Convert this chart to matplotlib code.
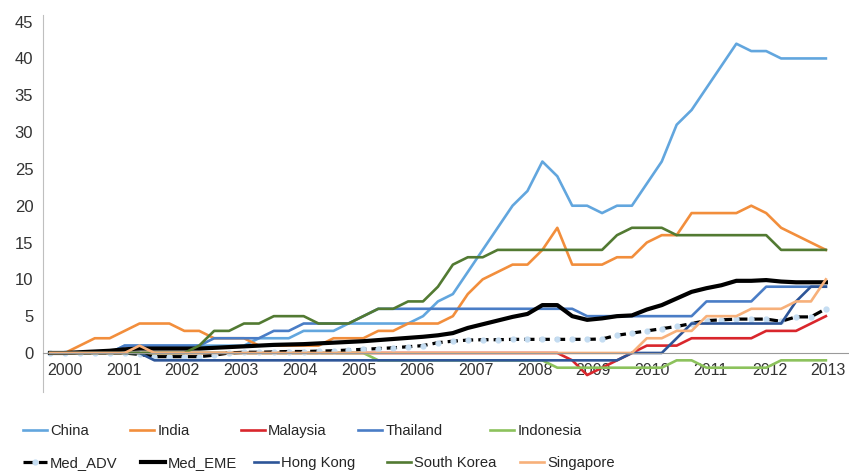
import numpy as np
import matplotlib
matplotlib.use("Agg")
import matplotlib.pyplot as plt

# quarterly observations, 53 points
china = [0, 0, 0, 0, 0, 1, 1, 1, 1, 1, 1, 1, 1, 1, 2, 2, 2, 3, 3, 3, 4, 4, 4, 4, 4,
         5, 7, 8, 11, 14, 17, 20, 22, 26, 24, 20, 20, 19, 20, 20, 23, 26, 31, 33, 36,
         39, 42, 41, 41, 40, 40, 40, 40]
india = [0, 0, 1, 2, 2, 3, 4, 4, 4, 3, 3, 2, 2, 2, 1, 1, 1, 1, 1, 2, 2, 2, 3, 3, 4,
         4, 4, 5, 8, 10, 11, 12, 12, 14, 17, 12, 12, 12, 13, 13, 15, 16, 16, 19, 19,
         19, 19, 20, 19, 17, 16, 15, 14]
malaysia = [0] * 35 + [-1, -3, -2, -1, 0, 1, 1, 1, 2, 2, 2, 2, 2, 3, 3, 3, 4, 5]
thailand = [0] * 5 + [1] * 6 + [2] * 4 + [3] * 2 + [4] * 4 + [5] + [6] * 14 + [5] * 8 + [7] * 4 + [9] * 5
indonesia = [0] * 22 + [-1] * 12 + [-2] * 8 + [-1] * 2 + [-2] * 5 + [-1] * 4
med_adv = [0, 0, 0, 0, 0, 0, -0.2, -0.5, -0.5, -0.5, -0.5, -0.3, 0, 0.1, 0.1, 0.15, 0.2,
           0.2, 0.25, 0.3, 0.4, 0.5, 0.6, 0.7, 0.85, 1.0, 1.4, 1.6, 1.75, 1.8, 1.8, 1.85,
           1.85, 1.85, 1.85, 1.85, 1.85, 1.9, 2.4, 2.7, 3.0, 3.3, 3.6, 4.0, 4.4, 4.5, 4.6,
           4.6, 4.6, 4.3, 4.9, 4.9, 6.0]
med_eme = [0, 0, 0.1, 0.2, 0.3, 0.5, 0.6, 0.6, 0.6, 0.6, 0.6, 0.7, 0.8, 0.9, 1.0, 1.1,
           1.15, 1.2, 1.3, 1.4, 1.5, 1.6, 1.75, 1.9, 2.05, 2.2, 2.4, 2.7, 3.4, 3.9, 4.4,
           4.9, 5.3, 6.5, 6.5, 5.0, 4.5, 4.7, 5.0, 5.1, 5.9, 6.5, 7.4, 8.3, 8.8, 9.2, 9.8,
           9.8, 9.9, 9.7, 9.6, 9.6, 9.6]
hong_kong = [0] * 7 + [-1] * 32 + [0] * 3 + [2] + [4] * 7 + [7, 9, 9]
south_korea = [0] * 10 + [1, 3, 3, 4, 4, 5, 5, 5, 4, 4, 4, 5, 6, 6, 7, 7, 9, 12, 13, 13] + \
              [14] * 8 + [16] + [17] * 3 + [16] * 7 + [14] * 4
singapore = [0] * 6 + [1] + [0] * 33 + [2, 2, 3, 3, 5, 5, 5, 6, 6, 6, 7, 7, 10]

years = [str(y) for y in range(2000, 2014)]

plt.rcParams["font.family"] = ["Liberation Sans", "DejaVu Sans"]

W, H = 849, 476
fig = plt.figure(figsize=(W / 100, H / 100), dpi=100)
ax = fig.add_axes([43 / W, (H - 392) / H, 1 - 43 / W, (392 - 15) / H])

x = np.arange(len(china))
series = [
    ("China", china, dict(color="#62A6DE", lw=1.9)),
    ("India", india, dict(color="#F28E3C", lw=1.9)),
    ("Malaysia", malaysia, dict(color="#D9262C", lw=1.9)),
    ("Thailand", thailand, dict(color="#4A7DC6", lw=1.9)),
    ("Indonesia", indonesia, dict(color="#8CC25C", lw=1.9)),
    ("Med_ADV", med_adv, dict(color="black", lw=2.3, ls=(0, (3.2, 1.6)), marker="o", ms=3.5,
                              mfc="#C5DDF2", mec="#C5DDF2")),
    ("Med_EME", med_eme, dict(color="black", lw=3.0)),
    ("Hong Kong", hong_kong, dict(color="#2D5598", lw=1.9)),
    ("South Korea", south_korea, dict(color="#527A32", lw=1.9)),
    ("Singapore", singapore, dict(color="#F7B07A", lw=1.9)),
]

lines = []
for name, vals, style in series:
    ln, = ax.plot(x, vals, label=name, solid_joinstyle="round", **style)
    lines.append(ln)

ax.set_xlim(-0.47, 53.55)
ax.set_ylim(-5.3, 45.9)
ax.set_yticks(range(0, 50, 5))
ax.set_xticks(np.linspace(1.0, 52.15, len(years)))
ax.set_xticklabels(years)
ax.tick_params(axis="y", length=0, pad=7, labelsize=12, labelcolor="#333333")
ax.tick_params(axis="x", length=0, pad=7, labelsize=11.5, labelcolor="#333333")
for s in ["top", "right"]:
    ax.spines[s].set_visible(False)
ax.spines["bottom"].set_position(("data", 0))
ax.spines["bottom"].set_color("#9A9A9A")
ax.spines["left"].set_color("#BFBFBF")

# legend laid out like the original: two rows, five entries each
leg_x = [23, 130, 241, 358, 490, 23, 141, 254, 387, 520]
leg_y = [431, 431, 431, 431, 431, 463, 463, 463, 463, 463]
for ln, lx, ly in zip(lines, leg_x, leg_y):
    fig.legend(handles=[ln], loc="center left", bbox_to_anchor=(lx / W, (H - ly) / H),
               frameon=False, borderpad=0, borderaxespad=0, handlelength=1.6,
               handletextpad=0.25, fontsize=10.6, numpoints=1, labelcolor="#262626")

fig.savefig("out.png", dpi=100)
